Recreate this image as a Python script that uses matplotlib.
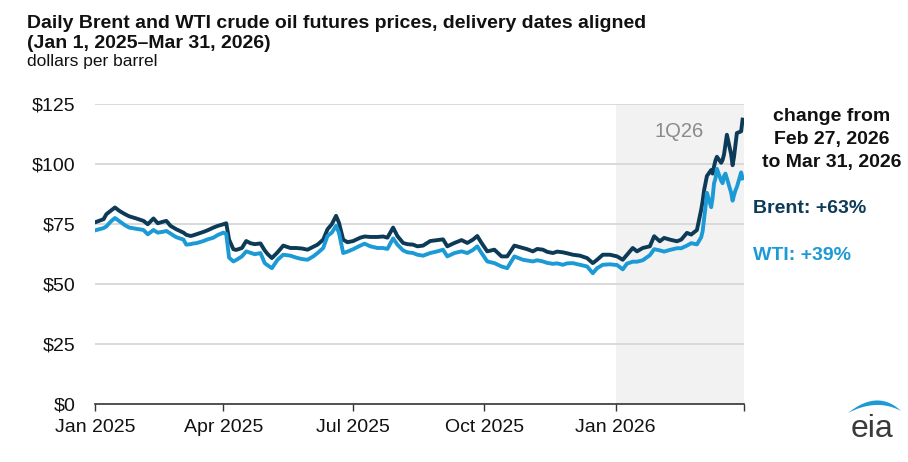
import matplotlib
matplotlib.use("Agg")
import matplotlib.pyplot as plt
import numpy as np
import pandas as pd
from matplotlib.patches import Polygon

plt.rcParams['font.family'] = ['Liberation Sans', 'DejaVu Sans']

# ---------------- data ----------------
dates = [
    "2025-01-02", "2025-01-07", "2025-01-09", "2025-01-12", "2025-01-15", "2025-01-18", "2025-01-22", "2025-01-25", "2025-01-30",
    "2025-02-04", "2025-02-07", "2025-02-11", "2025-02-14", "2025-02-18", "2025-02-20", "2025-02-23", "2025-02-25", "2025-02-27",
    "2025-03-04", "2025-03-06", "2025-03-09", "2025-03-11", "2025-03-13", "2025-03-18", "2025-03-21", "2025-03-25", "2025-03-28",
    "2025-04-01", "2025-04-03", "2025-04-05", "2025-04-08", "2025-04-10", "2025-04-14", "2025-04-17", "2025-04-20", "2025-04-23", "2025-04-27", "2025-04-30",
    "2025-05-02", "2025-05-05", "2025-05-09", "2025-05-13", "2025-05-18", "2025-05-22", "2025-05-26", "2025-05-30",
    "2025-06-03", "2025-06-06", "2025-06-10", "2025-06-13", "2025-06-16", "2025-06-19", "2025-06-21", "2025-06-24", "2025-06-27",
    "2025-07-01", "2025-07-06", "2025-07-09", "2025-07-13", "2025-07-18", "2025-07-22", "2025-07-25", "2025-07-29",
    "2025-08-01", "2025-08-05", "2025-08-08", "2025-08-12", "2025-08-15", "2025-08-19", "2025-08-24", "2025-08-29",
    "2025-09-02", "2025-09-05", "2025-09-10", "2025-09-15", "2025-09-19", "2025-09-23", "2025-09-26", "2025-09-29",
    "2025-10-03", "2025-10-08", "2025-10-13", "2025-10-17", "2025-10-22", "2025-10-28", "2025-10-31",
    "2025-11-04", "2025-11-07", "2025-11-11", "2025-11-14", "2025-11-18", "2025-11-21", "2025-11-25", "2025-11-28",
    "2025-12-02", "2025-12-07", "2025-12-12", "2025-12-16", "2025-12-19", "2025-12-23", "2025-12-28",
    "2026-01-02", "2026-01-06", "2026-01-09", "2026-01-13", "2026-01-16", "2026-01-20", "2026-01-25", "2026-01-28",
    "2026-02-01", "2026-02-04", "2026-02-08", "2026-02-13", "2026-02-16", "2026-02-20", "2026-02-23", "2026-02-27",
    "2026-03-02", "2026-03-03", "2026-03-04", "2026-03-05", "2026-03-06", "2026-03-09", "2026-03-10", "2026-03-11",
    "2026-03-12", "2026-03-13", "2026-03-16", "2026-03-17", "2026-03-18", "2026-03-19", "2026-03-20", "2026-03-23",
    "2026-03-24", "2026-03-25", "2026-03-26", "2026-03-27", "2026-03-30", "2026-03-31",
]

brent = [
    75.9, 77.0, 79.1, 80.5, 81.9, 80.5, 79.1, 78.2, 77.3,
    76.3, 74.9, 77.3, 75.3, 76.0, 76.3, 74.2, 73.5, 72.8,
    71.4, 70.5, 70.0, 70.3, 70.7, 71.7, 72.4, 73.5, 74.2,
    74.9, 75.3, 68.5, 64.5, 64.2, 65.0, 67.9, 67.0, 66.6, 66.9, 64.0,
    62.5, 60.8, 63.2, 66.0, 65.0, 65.0, 64.8, 64.3,
    65.5, 66.4, 68.5, 72.8, 74.9, 78.4, 75.6, 68.5, 67.4,
    67.9, 69.3, 69.8, 69.6, 69.6, 69.8, 69.3, 73.5,
    70.0, 67.1, 66.6, 66.4, 65.7, 66.0, 67.9, 68.3,
    68.6, 65.7, 67.1, 68.3, 67.1, 68.5, 70.0, 67.1,
    63.6, 64.3, 61.5, 61.5, 66.0, 65.0, 64.5,
    63.6, 64.6, 64.3, 63.4, 62.9, 63.5, 63.2, 62.8,
    62.2, 61.8, 60.8, 58.7, 60.1, 62.2, 62.2,
    61.5, 60.1, 62.2, 65.0, 63.6, 65.0, 65.7, 69.9,
    67.8, 69.2, 68.5, 67.8, 68.5, 71.3, 70.6, 72.5,
    81.0, 84.5, 89.0, 92.0, 95.0, 97.5, 96.0, 99.0,
    101.5, 103.0, 100.5, 101.7, 104.0, 108.0, 112.2, 104.0,
    99.5, 103.0, 108.0, 112.9, 113.6, 118.5,
]

wti = [
    72.5, 73.3, 74.0, 76.0, 77.5, 76.2, 74.5, 73.5, 73.0,
    72.5, 70.7, 72.5, 71.4, 71.8, 72.1, 71.0, 70.2, 69.5,
    68.5, 66.4, 66.6, 66.9, 67.0, 67.9, 68.6, 69.3, 70.4,
    71.4, 70.9, 61.0, 59.4, 60.0, 61.5, 63.6, 63.0, 62.4, 62.9, 58.7,
    57.8, 56.6, 60.1, 62.2, 61.8, 61.0, 60.4, 60.1,
    61.5, 62.9, 65.0, 70.0, 71.4, 74.2, 71.4, 62.9, 63.5,
    64.5, 66.0, 66.8, 65.7, 65.0, 65.0, 64.6, 69.0,
    66.4, 64.0, 63.2, 62.9, 62.2, 61.8, 62.9, 63.6,
    64.3, 61.5, 62.9, 63.6, 62.9, 64.2, 65.7, 62.9,
    59.4, 58.7, 57.3, 56.6, 61.5, 60.1, 59.8,
    59.4, 59.9, 59.4, 58.8, 58.4, 58.6, 58.0, 58.6,
    58.7, 58.0, 57.3, 54.5, 56.6, 58.0, 58.2,
    57.9, 56.1, 58.5, 59.3, 59.3, 59.9, 62.0, 64.5,
    64.0, 63.5, 64.2, 64.9, 64.9, 66.0, 67.0, 66.5,
    69.5, 72.0, 77.0, 82.0, 88.0, 82.0, 86.0, 92.0,
    94.0, 98.0, 93.0, 92.0, 95.0, 96.0, 94.0, 88.0,
    84.7, 87.0, 89.0, 90.4, 96.5, 94.0,
]

y_ticks = [0, 25, 50, 75, 100, 125]
y_labels = ["\\$0", "\\$25", "\\$50", "\\$75", "\\$100", "\\$125"]
x_ticks = ["2025-01-01", "2025-04-01", "2025-07-01", "2025-10-01", "2026-01-01", "2026-04-01"]
x_labels = ["Jan 2025", "Apr 2025", "Jul 2025", "Oct 2025", "Jan 2026", ""]
shade_start, shade_end = "2026-01-01", "2026-04-01"

BRENT_C = "#0d3b57"
WTI_C = "#1c9ad6"

W, H = 908, 462
fig = plt.figure(figsize=(W / 100, H / 100), dpi=100)
ax = fig.add_axes([95 / W, 1 - 404 / H, (744 - 95) / W, 300 / H])

d = pd.to_datetime(dates)
ax.axvspan(pd.Timestamp(shade_start), pd.Timestamp(shade_end), color="#f2f2f2", lw=0, zorder=0)
for yv in y_ticks[1:]:
    ax.axhline(yv, color="#d9d9d9", lw=1.4, zorder=1)

ax.plot(d, brent, color=BRENT_C, lw=2.8, zorder=3, solid_joinstyle="round")
ax.plot(d, wti, color=WTI_C, lw=2.8, zorder=4, solid_joinstyle="round")

ax.set_xlim(pd.Timestamp(x_ticks[0]), pd.Timestamp(x_ticks[-1]))
ax.set_ylim(0, 125)
ax.set_yticks(y_ticks)
ax.set_yticklabels(y_labels)
ax.set_xticks(pd.to_datetime(x_ticks))
ax.set_xticklabels(x_labels)

for s in ["left", "right", "top"]:
    ax.spines[s].set_visible(False)
ax.spines["bottom"].set_color("#333333")
ax.spines["bottom"].set_linewidth(1.2)
ax.spines["bottom"].set_zorder(5)
ax.tick_params(axis="y", length=0, pad=14, labelsize=14, labelcolor="#111111")
ax.tick_params(axis="x", length=5, width=1, color="#333333", direction="out", pad=6,
               labelsize=14, labelcolor="#111111")
ax.patch.set_alpha(0)

def fx(px):
    return px / W

def fy(py):
    return 1 - py / H

# titles
fig.text(fx(27), fy(28), "Daily Brent and WTI crude oil futures prices, delivery dates aligned",
         fontsize=14, fontweight="bold", color="#111111", va="baseline", ha="left")
fig.text(fx(27), fy(48), "(Jan 1, 2025\u2013Mar 31, 2026)",
         fontsize=14, fontweight="bold", color="#111111", va="baseline", ha="left")
fig.text(fx(27), fy(66), "dollars per barrel", fontsize=12.5, color="#111111", va="baseline", ha="left")

# 1Q26 label
fig.text(fx(679), fy(137), "1Q26", fontsize=14.5, color="#8a8a8a", ha="center", va="baseline")

# right-side annotation
fig.text(fx(832), fy(121), "change from", fontsize=14, fontweight="bold", color="#111111",
         ha="center", va="baseline")
fig.text(fx(832), fy(144), "Feb 27, 2026", fontsize=14, fontweight="bold", color="#111111",
         ha="center", va="baseline")
fig.text(fx(832), fy(167), "to Mar 31, 2026", fontsize=14, fontweight="bold", color="#111111",
         ha="center", va="baseline")
fig.text(fx(753), fy(213), "Brent: +63%", fontsize=14, fontweight="bold", color=BRENT_C,
         ha="left", va="baseline")
fig.text(fx(753), fy(260), "WTI: +39%", fontsize=14, fontweight="bold", color=WTI_C,
         ha="left", va="baseline")

# eia logo
fig.text(fx(872), fy(437), "eia", fontsize=23, color="#3a3a3a", ha="center", va="baseline")
t = np.linspace(0, 1, 40)
def qbez(p0, p1, p2):
    p0, p1, p2 = map(np.array, (p0, p1, p2))
    return ((1 - t)[:, None] ** 2) * p0 + (2 * (1 - t) * t)[:, None] * p1 + (t[:, None] ** 2) * p2
outer = qbez((848, 413), (878, 389), (901, 411))
inner = qbez((901, 411), (877, 398), (848, 413))
pts = np.vstack([outer, inner])
pts = np.column_stack([pts[:, 0] / W, 1 - pts[:, 1] / H])
fig.patches.append(Polygon(pts, closed=True, transform=fig.transFigure, color=WTI_C, lw=0))

fig.savefig("out.png", dpi=100)
